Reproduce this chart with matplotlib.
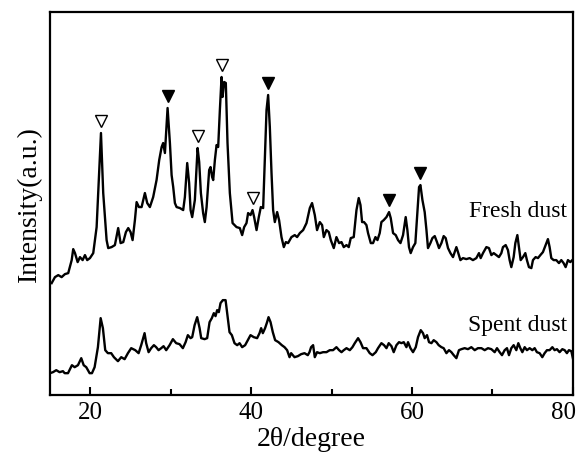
import numpy as np
import matplotlib.pyplot as plt
import matplotlib.transforms as mtransforms

plt.rcParams['font.family'] = ['Liberation Serif', 'DejaVu Serif']

# XRD pattern of the fresh dust (2-theta in degrees, intensity in a.u.)
fresh_2theta = [
    15.21, 15.62, 16.03, 16.45, 16.86, 17.27, 17.70, 17.89, 18.11, 18.44,
    18.73, 19.06, 19.35, 19.63, 19.97, 20.38, 20.80, 21.00, 21.34, 21.62,
    22.04, 22.24, 22.66, 23.07, 23.48, 23.78, 24.11, 24.44, 24.73, 25.02,
    25.27, 25.56, 25.77, 26.06, 26.39, 26.80, 27.09, 27.42, 27.83, 28.25,
    28.58, 28.88, 29.07, 29.29, 29.62, 29.91, 30.12, 30.32, 30.53, 30.74,
    31.15, 31.56, 31.77, 32.06, 32.30, 32.48, 32.68, 33.01, 33.35, 33.55,
    33.76, 34.04, 34.25, 34.47, 34.79, 34.96, 35.16, 35.29, 35.50, 35.71,
    35.91, 36.12, 36.33, 36.45, 36.65, 36.86, 37.07, 37.36, 37.70, 38.19,
    38.60, 38.89, 39.14, 39.43, 39.63, 39.93, 40.18, 40.38, 40.68, 40.96,
    41.21, 41.50, 41.71, 41.92, 42.12, 42.33, 42.54, 42.74, 42.95, 43.24,
    43.48, 43.78, 44.07, 44.32, 44.60, 45.02, 45.43, 45.72, 46.06, 46.47,
    46.89, 47.30, 47.58, 47.92, 48.20, 48.54, 48.83, 49.04, 49.37, 49.66,
    49.91, 50.28, 50.61, 50.94, 51.24, 51.52, 51.86, 52.14, 52.39, 52.76,
    53.10, 53.38, 53.60, 53.80, 54.04, 54.34, 54.54, 54.88, 55.16, 55.46,
    55.71, 55.99, 56.20, 56.49, 56.83, 57.15, 57.36, 57.65, 57.98, 58.27,
    58.57, 58.89, 59.22, 59.43, 59.63, 59.84, 60.13, 60.42, 60.63, 60.88,
    61.05, 61.30, 61.58, 61.80, 61.99, 62.29, 62.54, 62.83, 63.11, 63.36,
    63.66, 63.94, 64.19, 64.48, 64.78, 65.10, 65.52, 65.72, 66.02, 66.34,
    66.76, 67.17, 67.58, 68.00, 68.33, 68.54, 68.83, 69.25, 69.57, 69.87,
    70.16, 70.49, 70.81, 71.11, 71.31, 71.65, 71.93, 72.14, 72.35, 72.64,
    72.85, 73.10, 73.30, 73.51, 73.80, 74.09, 74.29, 74.54, 74.84, 75.04,
    75.37, 75.66, 75.96, 76.28, 76.61, 76.90, 77.11, 77.32, 77.61, 77.94,
    78.27, 78.56, 78.85, 79.10, 79.39, 79.68, 79.93,
]
fresh_intensity = [
    112, 118, 120, 118, 121, 122, 135, 146, 142, 133,
    138, 135, 140, 135, 137, 142, 168, 202, 262, 202,
    155, 147, 148, 150, 167, 152, 153, 163, 167, 163,
    155, 175, 193, 188, 188, 202, 192, 188, 198, 215,
    235, 248, 252, 242, 287, 252, 220, 208, 192, 188,
    187, 185, 198, 232, 212, 185, 178, 195, 247, 233,
    202, 182, 173, 188, 225, 228, 218, 215, 235, 250,
    248, 285, 318, 298, 313, 312, 252, 202, 172, 168,
    167, 160, 168, 172, 182, 180, 185, 178, 165, 178,
    188, 187, 235, 285, 300, 268, 222, 185, 173, 183,
    175, 158, 148, 153, 152, 158, 160, 158, 162, 165,
    172, 187, 192, 180, 165, 173, 170, 158, 165, 163,
    155, 147, 158, 152, 153, 148, 150, 148, 157, 158,
    185, 197, 190, 173, 173, 170, 162, 152, 152, 158,
    155, 162, 173, 175, 178, 183, 177, 162, 160, 155,
    152, 160, 178, 165, 148, 142, 148, 152, 178, 208,
    210, 195, 183, 165, 147, 152, 157, 159, 153, 147,
    152, 159, 157, 147, 142, 138, 148, 143, 135, 137,
    136, 137, 135, 137, 142, 137, 142, 148, 147, 140,
    142, 140, 138, 142, 148, 150, 145, 135, 128, 138,
    152, 160, 148, 135, 138, 142, 135, 128, 127, 135,
    138, 137, 140, 143, 150, 156, 148, 137, 135, 135,
    132, 135, 132, 128, 135, 133, 135,
]

# XRD pattern of the spent dust
spent_2theta = [
    15.00, 15.37, 15.78, 16.20, 16.61, 16.83, 17.24, 17.73, 18.07, 18.48,
    18.89, 19.19, 19.51, 19.93, 20.22, 20.55, 20.96, 21.30, 21.58, 21.87,
    22.20, 22.61, 22.95, 23.45, 23.86, 24.28, 24.69, 25.10, 25.60, 26.02,
    26.34, 26.76, 26.96, 27.26, 27.58, 27.92, 28.20, 28.50, 28.83, 29.12,
    29.45, 29.87, 30.28, 30.69, 31.11, 31.52, 31.86, 32.14, 32.48, 32.68,
    32.98, 33.30, 33.60, 33.80, 34.22, 34.54, 34.84, 35.12, 35.37, 35.58,
    35.78, 35.99, 36.20, 36.49, 36.83, 37.11, 37.32, 37.61, 37.94, 38.27,
    38.57, 38.89, 39.26, 39.60, 39.93, 40.34, 40.75, 41.05, 41.25, 41.46,
    41.74, 41.99, 42.17, 42.42, 42.70, 42.99, 43.41, 43.82, 44.16, 44.48,
    44.78, 44.98, 45.19, 45.40, 45.81, 46.22, 46.64, 47.05, 47.26, 47.46,
    47.71, 47.92, 48.20, 48.54, 48.95, 49.37, 49.78, 50.19, 50.61, 50.94,
    51.24, 51.52, 51.86, 52.27, 52.60, 52.89, 53.30, 53.60, 53.92, 54.34,
    54.75, 55.09, 55.50, 55.78, 56.20, 56.53, 56.83, 57.11, 57.45, 57.73,
    58.07, 58.39, 58.69, 58.98, 59.31, 59.51, 59.81, 60.13, 60.47, 60.75,
    61.09, 61.37, 61.58, 61.87, 62.12, 62.42, 62.70, 63.04, 63.32, 63.66,
    63.94, 64.28, 64.60, 64.90, 65.19, 65.52, 65.84, 66.14, 66.55, 66.96,
    67.38, 67.80, 68.20, 68.63, 69.04, 69.45, 69.87, 70.28, 70.57, 70.90,
    71.19, 71.52, 71.81, 72.06, 72.35, 72.64, 72.97, 73.22, 73.47, 73.72,
    74.01, 74.29, 74.63, 74.96, 75.25, 75.53, 75.87, 76.20, 76.49, 76.78,
    77.11, 77.45, 77.73, 78.02, 78.35, 78.69, 78.98, 79.26, 79.51, 79.81,
    80.00,
]
spent_intensity = [
    22, 23, 25, 23, 24, 22, 22, 30, 28, 30,
    37, 30, 28, 22, 22, 28, 48, 77, 67, 45,
    42, 42, 38, 34, 38, 36, 42, 47, 45, 42,
    50, 62, 52, 43, 47, 50, 48, 45, 47, 49,
    45, 50, 56, 52, 51, 47, 53, 60, 57, 58,
    70, 78, 67, 57, 56, 57, 73, 77, 82, 79,
    85, 83, 92, 95, 95, 77, 63, 60, 52, 50,
    52, 48, 50, 55, 60, 58, 57, 62, 67, 62,
    67, 73, 78, 73, 63, 55, 53, 50, 48, 45,
    38, 42, 40, 38, 39, 41, 42, 40, 43, 48,
    50, 38, 43, 42, 43, 43, 45, 45, 48, 45,
    43, 45, 47, 45, 48, 52, 57, 53, 47, 47,
    42, 40, 43, 47, 52, 50, 47, 52, 49, 43,
    50, 53, 52, 53, 48, 53, 47, 43, 48, 58,
    65, 62, 57, 60, 53, 52, 55, 53, 50, 48,
    47, 42, 45, 43, 40, 37, 45, 46, 47, 46,
    48, 45, 47, 47, 45, 47, 46, 43, 47, 43,
    40, 45, 47, 40, 47, 50, 45, 52, 47, 43,
    48, 45, 47, 45, 47, 43, 42, 38, 42, 45,
    45, 48, 45, 46, 43, 46, 45, 42, 45, 44,
    37,
]

# phase markers above the fresh-dust reflections
open_peaks = [21.34, 33.35, 36.33, 40.18]
filled_peaks = [29.62, 42.12, 57.15, 61.05]

major_ticks = [20, 40, 60, 80]
minor_ticks = [30, 50, 70]

fresh_2theta = np.array(fresh_2theta)
fresh_intensity = np.array(fresh_intensity)


def marker_height(pos, offset=12):
    near = np.abs(fresh_2theta - pos) < 0.35
    return fresh_intensity[near].max() + offset


fig = plt.figure(figsize=(5.81, 4.59), dpi=100)
ax = fig.add_axes([0.086, 0.139, 0.900, 0.835])

ax.plot(fresh_2theta, fresh_intensity, color='black', lw=1.7)
ax.plot(spent_2theta, spent_intensity, color='black', lw=1.7)

ax.plot(open_peaks, [marker_height(p) for p in open_peaks], ls='none',
        marker='v', ms=9, mfc='white', mec='black', mew=1.0)
ax.plot(filled_peaks, [marker_height(p) for p in filled_peaks], ls='none',
        marker='v', ms=9, mfc='black', mec='black', mew=1.0)

ax.text(79.3, 184, 'Fresh dust', ha='right', va='center', fontsize=17)
ax.text(79.3, 70, 'Spent dust', ha='right', va='center', fontsize=17)

ax.set_xlim(15, 80)
ax.set_ylim(0, 383)
ax.set_xticks(major_ticks)
ax.set_xticks(minor_ticks, minor=True)
ax.tick_params(axis='x', which='major', direction='in', length=6, width=1.5,
               labelsize=18, pad=5, top=False)
ax.tick_params(axis='x', which='minor', direction='in', length=4, width=1.5,
               top=False)
ax.set_yticks([])
for s in ax.spines.values():
    s.set_linewidth(1.6)

ax.set_xlabel('2θ/degree', fontsize=20, labelpad=2)
ax.set_ylabel('Intensity(a.u.)', fontsize=20, labelpad=6)

# pull the "80" label in so it stays inside the figure
last = ax.get_xticklabels()[-1]
last.set_transform(last.get_transform() +
                   mtransforms.ScaledTranslation(-9 / 100, 0, fig.dpi_scale_trans))

fig.savefig('out.png', dpi=100)
